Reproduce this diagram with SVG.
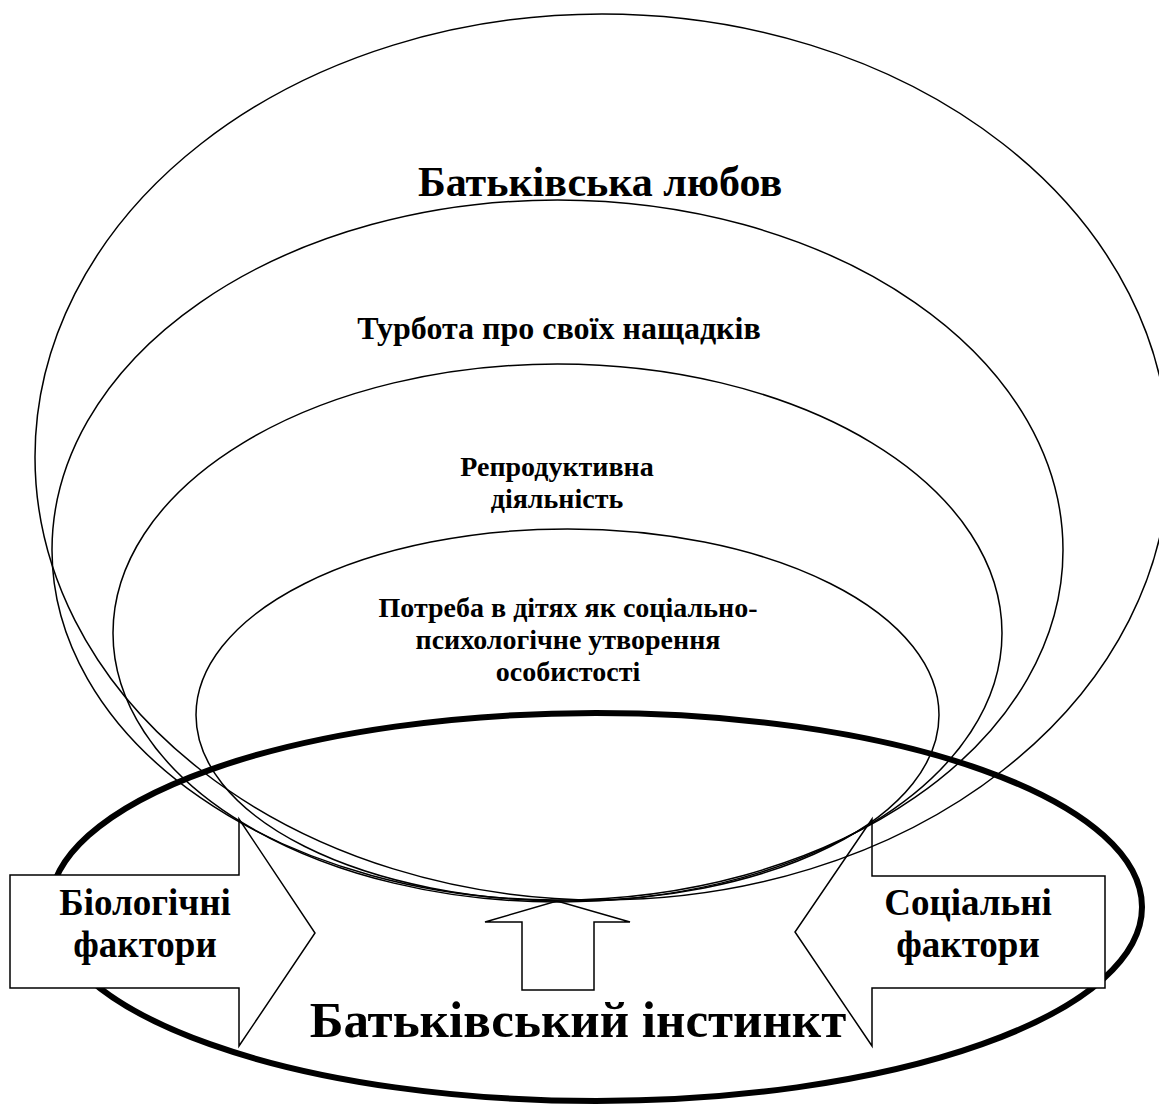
<svg xmlns="http://www.w3.org/2000/svg" width="1159" height="1106" viewBox="0 0 1159 1106">
<style>
.thin{fill:none;stroke:#000;stroke-width:1.5}
.thick{fill:none;stroke:#000;stroke-width:6}
.arr{fill:#fff;stroke:#000;stroke-width:1.5;stroke-linejoin:miter}
text{font-family:"Liberation Serif","Times New Roman",serif;font-weight:bold;fill:#000;text-anchor:middle}
</style>
<rect width="1159" height="1106" fill="#fff"/>
<g id="instinct">
<ellipse class="thick" cx="596" cy="907" rx="546" ry="194"/>
<text x="578" y="1037" font-size="51">Батьківський інстинкт</text>
</g>
<g id="biological">
<polygon class="arr" points="10,875 239,875 239,819 315,933 239,1046 239,988 10,988"/>
<text x="145" y="915" font-size="37">Біологічні</text>
<text x="145" y="957" font-size="37">фактори</text>
</g>
<g id="social">
<polygon class="arr" points="1105,876 872,876 872,819 795,932 872,1046 872,988 1105,988"/>
<text x="968" y="915" font-size="37">Соціальні</text>
<text x="968" y="957" font-size="37">фактори</text>
</g>
<g id="connectors">
<polygon class="arr" points="522,990 522,922 485,922 557,901 630,922 594,922 594,990"/>
</g>
<g id="love">
<ellipse class="thin" cx="602" cy="457" rx="567" ry="443"/>
<text x="600" y="196" font-size="42">Батьківська любов</text>
</g>
<g id="care">
<ellipse class="thin" cx="557.5" cy="550" rx="505.5" ry="350"/>
<text x="559" y="339" font-size="32">Турбота про своїх нащадків</text>
</g>
<g id="reproductive">
<ellipse class="thin" cx="557.5" cy="633" rx="444.5" ry="269"/>
<text x="557" y="476" font-size="28">Репродуктивна</text>
<text x="557" y="508" font-size="28">діяльність</text>
</g>
<g id="need">
<ellipse class="thin" cx="567.5" cy="715" rx="371.5" ry="186"/>
<text x="568" y="617" font-size="28">Потреба в дітях як соціально-</text>
<text x="568" y="649" font-size="28">психологічне утворення</text>
<text x="568" y="681" font-size="28">особистості</text>
</g>
</svg>
